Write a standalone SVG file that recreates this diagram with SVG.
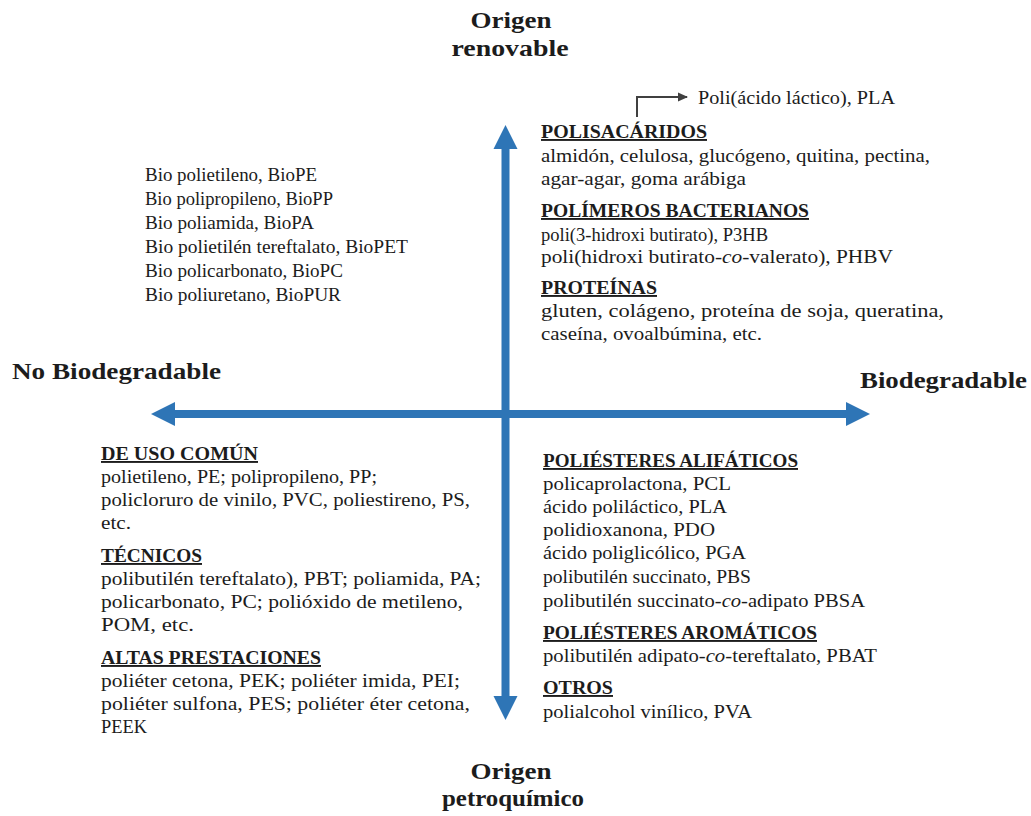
<svg xmlns="http://www.w3.org/2000/svg" width="1031" height="816" viewBox="0 0 1031 816">
<style>
text{font-family:"Liberation Serif","Times New Roman",serif;fill:#1c1c1c}
.t{font-size:19px}
.h{font-size:19px;font-weight:bold;text-decoration:underline}
.ax{font-size:24px;font-weight:bold}
.ax2{font-size:24px;font-weight:bold;text-anchor:middle}
.axis{fill:#2E75B6}
.shaft{stroke:#2E75B6;stroke-width:8;fill:none}
.small{stroke:#404040;stroke-width:2;fill:none}
</style>
<defs>
<marker id="ah" markerWidth="10" markerHeight="10" refX="9" refY="5" orient="auto" markerUnits="userSpaceOnUse">
<path d="M0,0.5 L10,5 L0,9.5 Z" fill="#404040"/>
</marker>
</defs>
<rect width="1031" height="816" fill="#ffffff"/>
<g id="connectors">
<line class="shaft" x1="505.5" y1="147" x2="505.5" y2="698"/>
<polygon class="axis" points="505.5,125 517.5,149 493.5,149"/>
<polygon class="axis" points="505.5,720 517.5,696 493.5,696"/>
<line class="shaft" x1="173" y1="414" x2="848" y2="414"/>
<polygon class="axis" points="151,414 175,402 175,426"/>
<polygon class="axis" points="870,414 846,402 846,426"/>
<path class="small" d="M637,117 V97 H687" marker-end="url(#ah)"/>
</g>
<g id="label-renovable">
<text class="ax2" x="511" y="28" textLength="81" lengthAdjust="spacingAndGlyphs">Origen</text>
<text class="ax2" x="510" y="56" textLength="117" lengthAdjust="spacingAndGlyphs">renovable</text>
</g>
<g id="label-petroquimico">
<text class="ax2" x="511" y="779" textLength="81" lengthAdjust="spacingAndGlyphs">Origen</text>
<text class="ax2" x="513" y="806" textLength="142" lengthAdjust="spacingAndGlyphs">petroquímico</text>
</g>
<g id="label-no-biodegradable">
<text class="ax" x="12" y="379" textLength="209" lengthAdjust="spacingAndGlyphs">No Biodegradable</text>
</g>
<g id="label-biodegradable">
<text class="ax" x="860" y="388" textLength="167" lengthAdjust="spacingAndGlyphs">Biodegradable</text>
</g>
<g id="pla-note">
<text class="t" x="698" y="104" textLength="197" lengthAdjust="spacingAndGlyphs">Poli(ácido láctico), PLA</text>
</g>
<g id="quadrant-renovable-no-biodegradable">
<text class="t" x="145" y="181" textLength="172" lengthAdjust="spacingAndGlyphs">Bio polietileno, BioPE</text>
<text class="t" x="145" y="205" textLength="188" lengthAdjust="spacingAndGlyphs">Bio polipropileno, BioPP</text>
<text class="t" x="145" y="229" textLength="169" lengthAdjust="spacingAndGlyphs">Bio poliamida, BioPA</text>
<text class="t" x="145" y="253" textLength="263" lengthAdjust="spacingAndGlyphs">Bio polietilén tereftalato, BioPET</text>
<text class="t" x="145" y="277" textLength="198" lengthAdjust="spacingAndGlyphs">Bio policarbonato, BioPC</text>
<text class="t" x="145" y="301" textLength="196" lengthAdjust="spacingAndGlyphs">Bio poliuretano, BioPUR</text>
</g>
<g id="quadrant-renovable-biodegradable">
<text class="h" x="541" y="138" textLength="166" lengthAdjust="spacingAndGlyphs">POLISACÁRIDOS</text>
<text class="t" x="541" y="162" textLength="389" lengthAdjust="spacingAndGlyphs">almidón, celulosa, glucógeno, quitina, pectina,</text>
<text class="t" x="541" y="185" textLength="205" lengthAdjust="spacingAndGlyphs">agar-agar, goma arábiga</text>
<text class="h" x="541" y="217" textLength="268" lengthAdjust="spacingAndGlyphs">POLÍMEROS BACTERIANOS</text>
<text class="t" x="541" y="241" textLength="227" lengthAdjust="spacingAndGlyphs">poli(3-hidroxi butirato), P3HB</text>
<text class="t" x="541" y="263" textLength="352" lengthAdjust="spacingAndGlyphs">poli(hidroxi butirato-<tspan font-style="italic">co</tspan>-valerato), PHBV</text>
<text class="h" x="541" y="294" textLength="116" lengthAdjust="spacingAndGlyphs">PROTEÍNAS</text>
<text class="t" x="541" y="317" textLength="403" lengthAdjust="spacingAndGlyphs">gluten, colágeno, proteína de soja, queratina,</text>
<text class="t" x="541" y="340" textLength="221" lengthAdjust="spacingAndGlyphs">caseína, ovoalbúmina, etc.</text>
</g>
<g id="quadrant-petroquimico-no-biodegradable">
<text class="h" x="101" y="460" textLength="157" lengthAdjust="spacingAndGlyphs">DE USO COMÚN</text>
<text class="t" x="101" y="483" textLength="276" lengthAdjust="spacingAndGlyphs">polietileno, PE; polipropileno, PP;</text>
<text class="t" x="101" y="506" textLength="369" lengthAdjust="spacingAndGlyphs">policloruro de vinilo, PVC, poliestireno, PS,</text>
<text class="t" x="101" y="529" textLength="30" lengthAdjust="spacingAndGlyphs">etc.</text>
<text class="h" x="101" y="562" textLength="101" lengthAdjust="spacingAndGlyphs">TÉCNICOS</text>
<text class="t" x="101" y="585" textLength="380" lengthAdjust="spacingAndGlyphs">polibutilén tereftalato), PBT; poliamida, PA;</text>
<text class="t" x="101" y="608" textLength="362" lengthAdjust="spacingAndGlyphs">policarbonato, PC; polióxido de metileno,</text>
<text class="t" x="101" y="631" textLength="93" lengthAdjust="spacingAndGlyphs">POM, etc.</text>
<text class="h" x="101" y="664" textLength="220" lengthAdjust="spacingAndGlyphs">ALTAS PRESTACIONES</text>
<text class="t" x="101" y="687" textLength="359" lengthAdjust="spacingAndGlyphs">poliéter cetona, PEK; poliéter imida, PEI;</text>
<text class="t" x="101" y="710" textLength="369" lengthAdjust="spacingAndGlyphs">poliéter sulfona, PES; poliéter éter cetona,</text>
<text class="t" x="101" y="733" textLength="46" lengthAdjust="spacingAndGlyphs">PEEK</text>
</g>
<g id="quadrant-petroquimico-biodegradable">
<text class="h" x="543" y="467" textLength="255" lengthAdjust="spacingAndGlyphs">POLIÉSTERES ALIFÁTICOS</text>
<text class="t" x="543" y="490" textLength="188" lengthAdjust="spacingAndGlyphs">policaprolactona, PCL</text>
<text class="t" x="543" y="513" textLength="184" lengthAdjust="spacingAndGlyphs">ácido poliláctico, PLA</text>
<text class="t" x="543" y="536" textLength="172" lengthAdjust="spacingAndGlyphs">polidioxanona, PDO</text>
<text class="t" x="543" y="559" textLength="203" lengthAdjust="spacingAndGlyphs">ácido poliglicólico, PGA</text>
<text class="t" x="543" y="583" textLength="208" lengthAdjust="spacingAndGlyphs">polibutilén succinato, PBS</text>
<text class="t" x="543" y="607" textLength="322" lengthAdjust="spacingAndGlyphs">polibutilén succinato-<tspan font-style="italic">co</tspan>-adipato PBSA</text>
<text class="h" x="543" y="639" textLength="274" lengthAdjust="spacingAndGlyphs">POLIÉSTERES AROMÁTICOS</text>
<text class="t" x="543" y="662" textLength="334" lengthAdjust="spacingAndGlyphs">polibutilén adipato-<tspan font-style="italic">co</tspan>-tereftalato, PBAT</text>
<text class="h" x="543" y="694" textLength="70" lengthAdjust="spacingAndGlyphs">OTROS</text>
<text class="t" x="543" y="718" textLength="209" lengthAdjust="spacingAndGlyphs">polialcohol vinílico, PVA</text>
</g>
</svg>
